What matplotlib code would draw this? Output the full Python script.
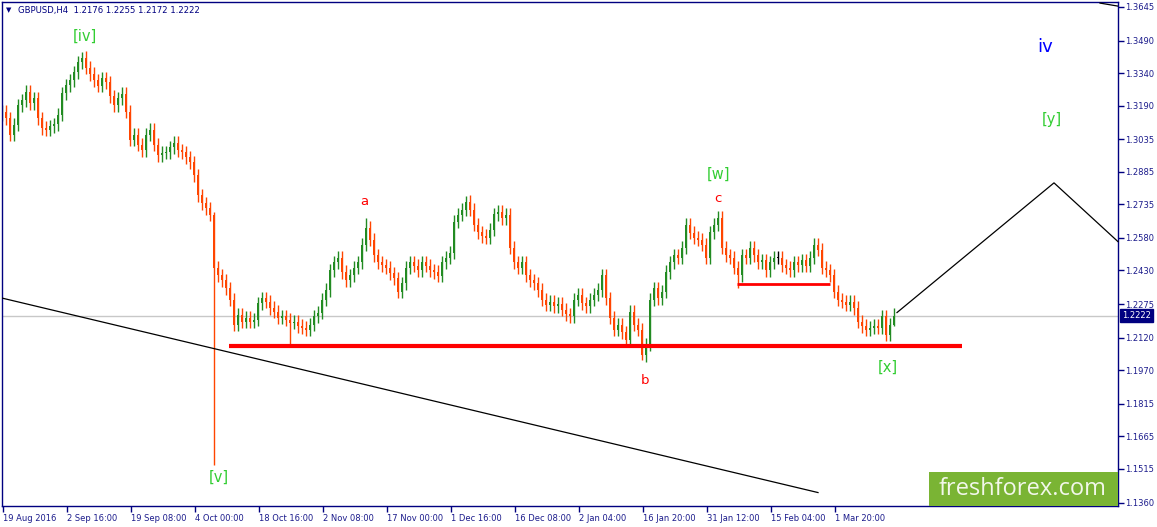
import numpy as np
import matplotlib
matplotlib.use("Agg")
import matplotlib.pyplot as plt
import matplotlib.transforms as mtransforms

plt.rcParams['font.family'] = ['DejaVu Sans']

# GBPUSD H4 closes, one value per 4 bars
closes = [
    1.3161, 1.3133, 1.3055, 1.3101, 1.3193, 1.3216, 1.3253, 1.3202, 1.3225, 1.3133,
    1.3087, 1.3078, 1.3096, 1.3105, 1.3147, 1.3248, 1.3285, 1.3308, 1.3345, 1.3391,
    1.3410, 1.3364, 1.3336, 1.3308, 1.3281, 1.3317, 1.3299, 1.3234, 1.3193, 1.3225,
    1.3244, 1.3161, 1.3032, 1.3055, 1.3009, 1.2985, 1.3055, 1.3078, 1.3009, 1.2962,
    1.2972, 1.2976, 1.2999, 1.3018, 1.2985, 1.2976, 1.2953, 1.2930, 1.2870, 1.2778,
    1.2741, 1.2718, 1.2686, 1.2442, 1.2409, 1.2386, 1.2349, 1.2294, 1.2179, 1.2225,
    1.2193, 1.2211, 1.2193, 1.2202, 1.2280, 1.2303, 1.2285, 1.2257, 1.2239, 1.2211,
    1.2220, 1.2202, 1.2188, 1.2193, 1.2174, 1.2165, 1.2156, 1.2179, 1.2220, 1.2234,
    1.2294, 1.2340, 1.2432, 1.2469, 1.2488, 1.2423, 1.2386, 1.2409, 1.2442, 1.2469,
    1.2548, 1.2626, 1.2571, 1.2501, 1.2469, 1.2455, 1.2442, 1.2418, 1.2395, 1.2331,
    1.2372, 1.2442, 1.2469, 1.2451, 1.2432, 1.2469, 1.2451, 1.2432, 1.2423, 1.2405,
    1.2469, 1.2488, 1.2511, 1.2654, 1.2686, 1.2709, 1.2746, 1.2709, 1.2640, 1.2607,
    1.2589, 1.2580, 1.2617, 1.2690, 1.2700, 1.2672, 1.2686, 1.2534, 1.2469, 1.2442,
    1.2469, 1.2409, 1.2386, 1.2372, 1.2340, 1.2294, 1.2271, 1.2285, 1.2266, 1.2276,
    1.2248, 1.2229, 1.2220, 1.2294, 1.2317, 1.2280, 1.2266, 1.2294, 1.2317, 1.2340,
    1.2409, 1.2303, 1.2211, 1.2156, 1.2179, 1.2146, 1.2110, 1.2239, 1.2179, 1.2156,
    1.2040, 1.2087, 1.2294, 1.2349, 1.2303, 1.2331, 1.2423, 1.2469, 1.2501, 1.2488,
    1.2534, 1.2640, 1.2603, 1.2580, 1.2571, 1.2548, 1.2488, 1.2607, 1.2640, 1.2672,
    1.2534, 1.2501, 1.2488, 1.2442, 1.2409, 1.2501, 1.2488, 1.2534, 1.2501, 1.2469,
    1.2478, 1.2432, 1.2469, 1.2488, 1.2488, 1.2455, 1.2442, 1.2432, 1.2469, 1.2455,
    1.2478, 1.2451, 1.2488, 1.2548, 1.2525, 1.2442, 1.2432, 1.2409, 1.2331, 1.2294,
    1.2285, 1.2271, 1.2285, 1.2257, 1.2193, 1.2174, 1.2156, 1.2165, 1.2174, 1.2165,
    1.2220, 1.2133, 1.2179, 1.2222,
]
first_open = 1.3150
high_spikes = {20: 1.3437, 53: 1.2700, 91: 1.2672, 116: 1.2773, 179: 1.2704, 223: 1.2255}
low_spikes = {53: 1.1533, 72: 1.2077, 160: 1.2015, 184: 1.2349, 221: 1.2105, 223: 1.2172}

price_ticks = [1.3645, 1.3490, 1.3340, 1.3190, 1.3035, 1.2885, 1.2735, 1.2580,
               1.2430, 1.2275, 1.2120, 1.1970, 1.1815, 1.1665, 1.1515, 1.1360]
date_labels = ["19 Aug 2016", "2 Sep 16:00", "19 Sep 08:00", "4 Oct 00:00",
               "18 Oct 16:00", "2 Nov 08:00", "17 Nov 00:00", "1 Dec 16:00",
               "16 Dec 08:00", "2 Jan 04:00", "16 Jan 20:00", "31 Jan 12:00",
               "15 Feb 04:00", "1 Mar 20:00"]
last_price = 1.2222

# drawn objects (price levels)
support_level = 1.2084
support_range = (229, 962)
inner_level = 1.2369
inner_range = (737, 830)
trend_line = ([0, 818], [1.2305, 1.1406])
projection = ([897, 1054, 1118], [1.2236, 1.2834, 1.2563])

NAVY = "#000080"
BULL = "#228b22"
BEAR = "#ff4500"
WAVE_GREEN = "#32cd32"

closes = np.array(closes)
opens = np.concatenate([[first_open], closes[:-1]])
highs = np.maximum(opens, closes) + 0.0030
lows = np.minimum(opens, closes) - 0.0030
for k, v in high_spikes.items():
    highs[k] = v
for k, v in low_spikes.items():
    lows[k] = v
x = 2 + 4 * np.arange(len(closes))

fig = plt.figure(figsize=(11.57, 5.27), dpi=100)
ax = fig.add_axes([2 / 1157, 21 / 527, 1116 / 1157, 504 / 527])
ax.set_xlim(2, 1118)
ax.set_ylim(1.1344, 1.3668)

# last price line
ax.axhline(last_price, color="#c8c8c8", lw=1, zorder=1)

# candles
colors = np.where(closes > opens, BULL, np.where(closes < opens, BEAR, "black"))
ax.vlines(x, lows, highs, colors=colors, lw=1, zorder=2)
body = np.where(np.abs(closes - opens) < 0.0004, 0.0004, closes - opens)
ax.bar(x, body, bottom=opens, width=2.6, color=colors, lw=0, zorder=2)

# drawn lines
ax.plot(support_range, [support_level] * 2, color="#ff0000", lw=3, solid_capstyle="butt", zorder=3)
ax.plot(inner_range, [inner_level] * 2, color="#ff0000", lw=2, solid_capstyle="butt", zorder=3)
ax.plot(*trend_line, color="black", lw=0.9, zorder=3)
ax.plot(*projection, color="black", lw=0.9, zorder=3, clip_on=False)
ax.plot([1100, 1118], [1.3663, 1.3649], color="black", lw=0.9, zorder=3)

# wave labels
green_labels = [("[iv]", 85, 1.3511), ("[v]", 219, 1.1475), ("[w]", 719, 1.2875),
                ("[x]", 888, 1.1985), ("[y]", 1052, 1.3124)]
for t, lx, ly in green_labels:
    ax.text(lx, ly, t, color=WAVE_GREEN, fontsize=10.5, ha="center", va="center")
for t, lx, ly in [("a", 364, 1.2750), ("b", 645, 1.1925), ("c", 718, 1.2760)]:
    ax.text(lx, ly, t, color="#ff0000", fontsize=9.5, ha="center", va="center")
ax.text(1045, 1.3460, "iv", color="#0000ff", fontsize=13, ha="center", va="center")

# axes styling
for s in ax.spines.values():
    s.set_color(NAVY)
    s.set_linewidth(1)
ax.yaxis.tick_right()
ax.set_yticks(price_ticks)
ax.set_yticklabels([f"{p:.4f}" for p in price_ticks])
ax.set_xticks(3 + 64 * np.arange(len(date_labels)))
ax.set_xticklabels(date_labels, ha="left")
ax.tick_params(axis="both", colors=NAVY, labelcolor="#1c1c8c", labelsize=6,
               length=4, width=1, direction="out")
ax.tick_params(axis="x", pad=2)
ax.tick_params(axis="y", pad=1)

# current price tag
trans = mtransforms.blended_transform_factory(ax.transAxes, ax.transData)
ax.text(1.0035, last_price, "1.2222", transform=trans, color="white", fontsize=6,
        ha="left", va="center", clip_on=False,
        bbox=dict(boxstyle="square,pad=0.25", fc=NAVY, ec=NAVY))

# header
fig.text(6 / 1157, 1 - 10 / 527, "\u25bc", color=NAVY, fontsize=5, va="center")
fig.text(18 / 1157, 1 - 10 / 527, "GBPUSD,H4  1.2176 1.2255 1.2172 1.2222",
         color=NAVY, fontsize=6.1, va="center")

# logo
fig.patches.append(plt.Rectangle((929 / 1157, 21 / 527), 189 / 1157, 34 / 527,
                                 transform=fig.transFigure, fc="#7ab434", ec="none", zorder=5))
fig.text(1023 / 1157, 1 - 489 / 527, "freshforex.com", color="#f2f7ea",
         fontsize=17, family="Open Sans", ha="center", va="center", zorder=6)

fig.savefig("out.png", dpi=100)
